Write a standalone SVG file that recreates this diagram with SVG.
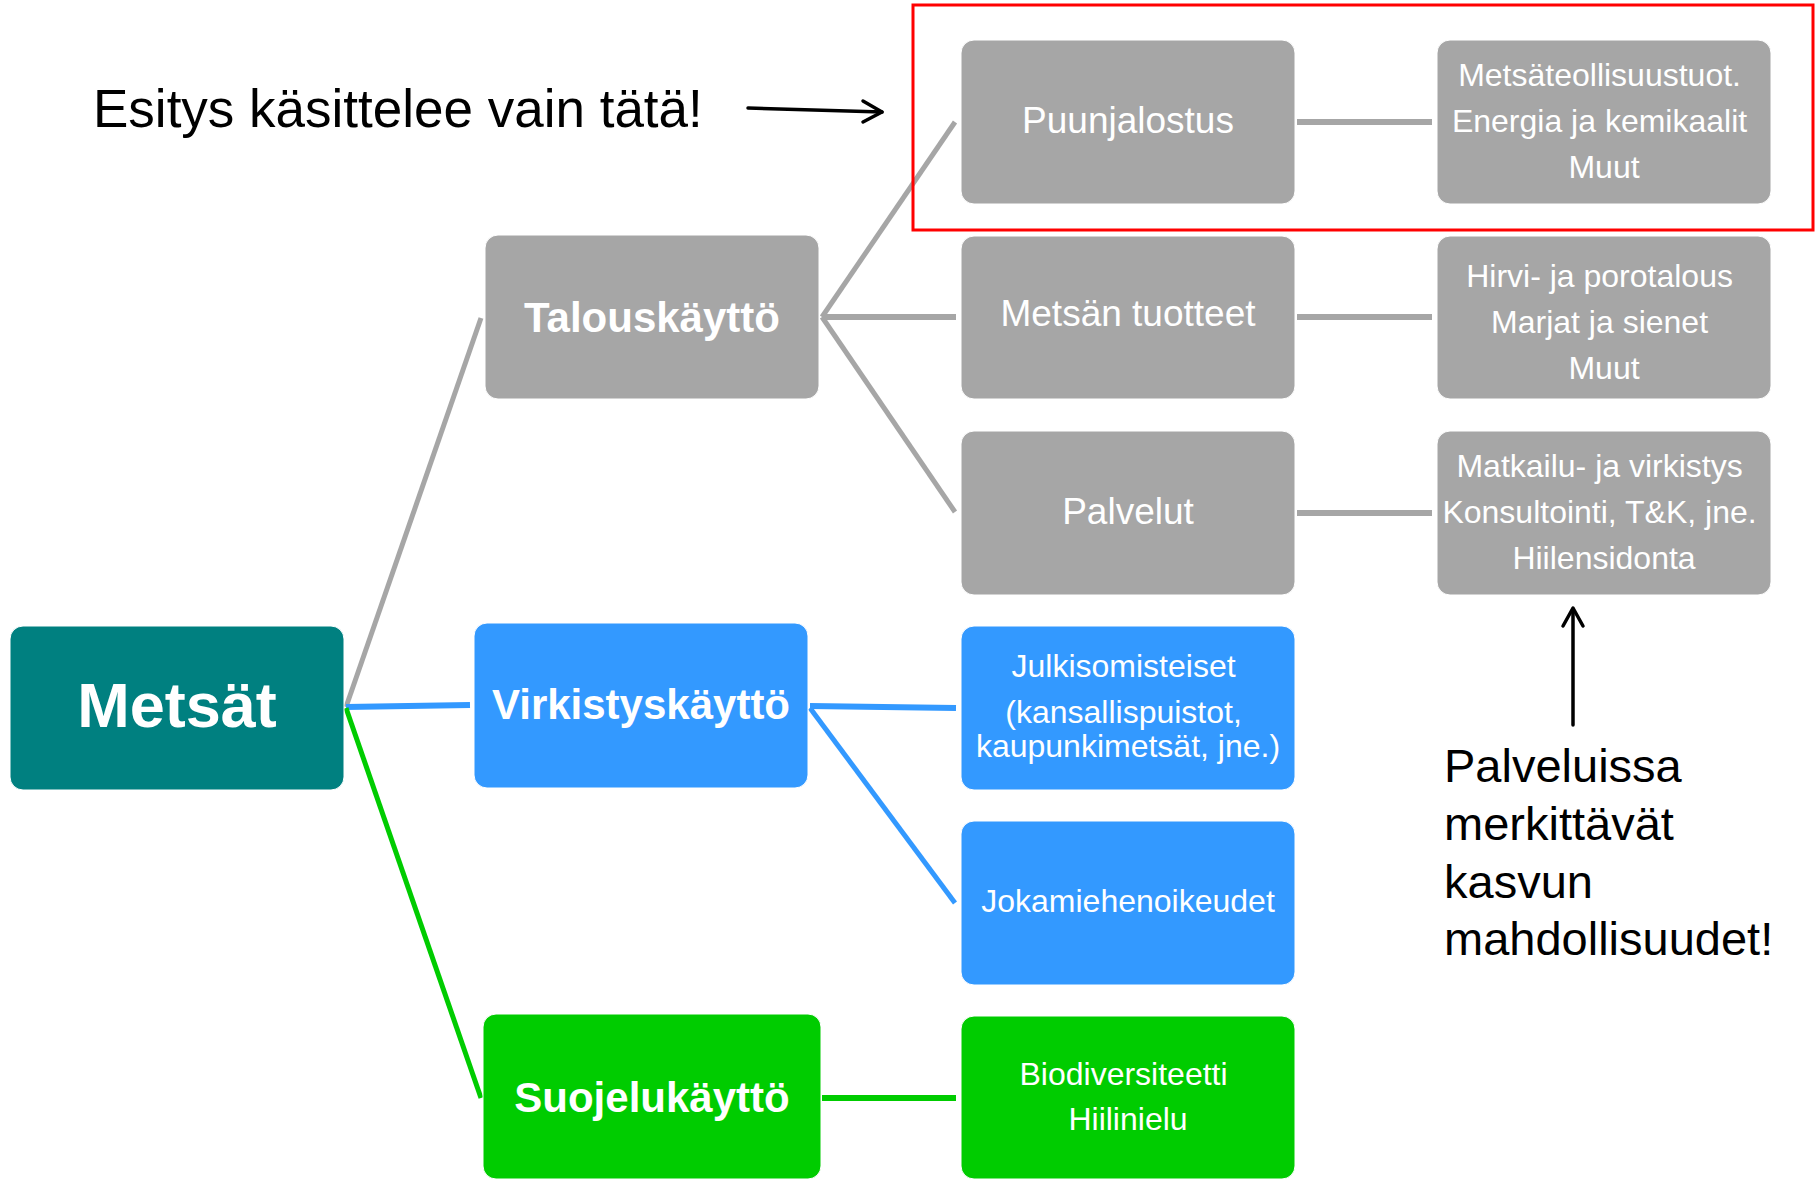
<svg xmlns="http://www.w3.org/2000/svg" width="1816" height="1180" viewBox="0 0 1816 1180">
  <style>
    .box { stroke: #ffffff; stroke-width: 1; }
    .gray { fill: #a6a6a6; }
    .teal { fill: #008080; }
    .blue { fill: #3399ff; }
    .green { fill: #00cc00; }
    .t { font-family: "Liberation Sans", Arial, sans-serif; fill: #ffffff; text-anchor: middle; }
    .b { font-weight: bold; }
    .big { font-size: 42px; }
    .mid { font-size: 37px; }
    .sm { font-size: 32px; }
    .note { font-family: "Liberation Sans", Arial, sans-serif; fill: #000000; }
    .cg { stroke: #a6a6a6; fill: none; }
    .cb { stroke: #3399ff; fill: none; }
    .cgr { stroke: #00cc00; fill: none; }
    .d { stroke-width: 5; }
    .h { stroke-width: 6; }
    .arr { stroke: #000000; stroke-width: 3.5; fill: none; stroke-linecap: round; stroke-linejoin: round; }
  </style>

  <g id="connectors">
    <line class="cg d" x1="346" y1="707" x2="481" y2="318"/>
    <line class="cb h" x1="346" y1="707" x2="470" y2="705"/>
    <line class="cgr d" x1="346" y1="708" x2="481" y2="1098"/>
    <line class="cg d" x1="822" y1="317" x2="955" y2="122"/>
    <line class="cg h" x1="822" y1="317" x2="956" y2="317"/>
    <line class="cg d" x1="822" y1="317" x2="955" y2="512"/>
    <line class="cg h" x1="1297" y1="122" x2="1432" y2="122"/>
    <line class="cg h" x1="1297" y1="317" x2="1432" y2="317"/>
    <line class="cg h" x1="1297" y1="513" x2="1432" y2="513"/>
    <line class="cb h" x1="810" y1="706" x2="956" y2="708"/>
    <line class="cb d" x1="810" y1="708" x2="955" y2="903"/>
    <line class="cgr h" x1="822" y1="1098" x2="956" y2="1098"/>
  </g>

  <g id="highlight">
    <rect x="913" y="5" width="900" height="225" fill="none" stroke="#ff0000" stroke-width="3"/>
  </g>

  <g id="note-top">
    <text class="note" x="93" y="127" font-size="53">Esitys käsittelee vain tätä!</text>
    <polyline class="arr" points="748,108 882,112"/>
    <polyline class="arr" points="863,101 882,112 863,122"/>
  </g>

  <g id="note-bottom">
    <polyline class="arr" points="1573,725 1573,609"/>
    <polyline class="arr" points="1563,626 1573,608 1583,626"/>
    <text class="note" font-size="47">
      <tspan x="1444" y="782">Palveluissa</tspan>
      <tspan x="1444" y="840">merkittävät</tspan>
      <tspan x="1444" y="898">kasvun</tspan>
      <tspan x="1444" y="955">mahdollisuudet!</tspan>
    </text>
  </g>

  <g id="metsat">
    <rect class="box teal" x="10" y="626" width="334" height="164" rx="13"/>
    <text class="t b" x="177" y="727" font-size="63">Metsät</text>
  </g>

  <g id="talouskaytto">
    <rect class="box gray" x="485" y="235" width="334" height="164" rx="13"/>
    <text class="t b big" x="652" y="332">Talouskäyttö</text>
  </g>

  <g id="virkistyskaytto">
    <rect class="box blue" x="474" y="623" width="334" height="165" rx="13"/>
    <text class="t b big" x="641" y="719">Virkistyskäyttö</text>
  </g>

  <g id="suojelukaytto">
    <rect class="box green" x="483" y="1014" width="338" height="165" rx="13"/>
    <text class="t b big" x="652" y="1112">Suojelukäyttö</text>
  </g>

  <g id="puunjalostus">
    <rect class="box gray" x="961" y="40" width="334" height="164" rx="13"/>
    <text class="t mid" x="1128" y="133">Puunjalostus</text>
  </g>

  <g id="metsan-tuotteet">
    <rect class="box gray" x="961" y="236" width="334" height="163" rx="13"/>
    <text class="t mid" x="1128" y="326">Metsän tuotteet</text>
  </g>

  <g id="palvelut">
    <rect class="box gray" x="961" y="431" width="334" height="164" rx="13"/>
    <text class="t mid" x="1128" y="524">Palvelut</text>
  </g>

  <g id="metsateollisuus">
    <rect class="box gray" x="1437" y="40" width="334" height="164" rx="13"/>
    <text class="t sm">
      <tspan x="1604" y="86">Metsäteollisuustuot.</tspan>
      <tspan x="1604" y="132">Energia ja kemikaalit</tspan>
      <tspan x="1604" y="178">Muut</tspan>
    </text>
  </g>

  <g id="hirvi">
    <rect class="box gray" x="1437" y="236" width="334" height="163" rx="13"/>
    <text class="t sm">
      <tspan x="1604" y="287">Hirvi- ja porotalous</tspan>
      <tspan x="1604" y="333">Marjat ja sienet</tspan>
      <tspan x="1604" y="379">Muut</tspan>
    </text>
  </g>

  <g id="matkailu">
    <rect class="box gray" x="1437" y="431" width="334" height="164" rx="13"/>
    <text class="t sm">
      <tspan x="1604" y="477">Matkailu- ja virkistys</tspan>
      <tspan x="1604" y="523">Konsultointi, T&amp;K, jne.</tspan>
      <tspan x="1604" y="569">Hiilensidonta</tspan>
    </text>
  </g>

  <g id="julkisomisteiset">
    <rect class="box blue" x="961" y="626" width="334" height="164" rx="13"/>
    <text class="t sm">
      <tspan x="1128" y="677">Julkisomisteiset</tspan>
      <tspan x="1128" y="723">(kansallispuistot,</tspan>
      <tspan x="1128" y="757">kaupunkimetsät, jne.)</tspan>
    </text>
  </g>

  <g id="jokamiehenoikeudet">
    <rect class="box blue" x="961" y="821" width="334" height="164" rx="13"/>
    <text class="t sm" x="1128" y="912">Jokamiehenoikeudet</text>
  </g>

  <g id="biodiversiteetti">
    <rect class="box green" x="961" y="1016" width="334" height="163" rx="13"/>
    <text class="t sm">
      <tspan x="1128" y="1085">Biodiversiteetti</tspan>
      <tspan x="1128" y="1130">Hiilinielu</tspan>
    </text>
  </g>
</svg>
